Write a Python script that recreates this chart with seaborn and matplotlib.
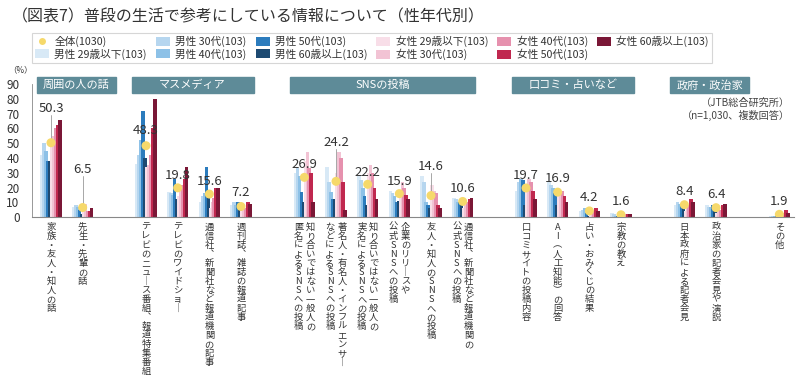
import numpy as np
import pandas as pd
import seaborn as sns
import matplotlib.pyplot as plt
import matplotlib.transforms as mtransforms
from matplotlib.patches import Rectangle, Patch
from matplotlib.lines import Line2D

# ---- data ----
groups = ['周囲の人の話', 'マスメディア', 'SNSの投稿', '口コミ・占いなど', '政府・政治家', '']
group_sizes = [2, 4, 6, 4, 2, 1]

categories = [
    ['家族・友人・知人の話'],
    ['先生・先輩の話'],
    ['テレビのニュース番組、報道特集番組'],
    ['テレビのワイドショー'],
    ['通信社、新聞社など報道機関の記事'],
    ['週刊誌、雑誌の報道記事'],
    ['知り合いではない一般人の', '匿名によるSNSへの投稿'],
    ['著名人・有名人・インフルエンサー', 'などによるSNSへの投稿'],
    ['知り合いではない一般人の', '実名によるSNSへの投稿'],
    ['企業のリリースや', '公式SNSへの投稿'],
    ['友人・知人のSNSへの投稿'],
    ['通信社、新聞社など報道機関の', '公式SNSへの投稿'],
    ['口コミサイトの投稿内容'],
    ['AI（人工知能）の回答'],
    ['占い・おみくじの結果'],
    ['宗教の教え'],
    ['日本政府による記者会見'],
    ['政治家の記者会見や演説'],
    ['その他'],
]

total = [50.3, 6.5, 48.3, 19.8, 15.6, 7.2, 26.9, 24.2, 22.2, 15.9, 14.6, 10.6,
         19.7, 16.9, 4.2, 1.6, 8.4, 6.4, 1.9]

series = ['男性 29歳以下(103)', '男性 30代(103)', '男性 40代(103)', '男性 50代(103)', '男性 60歳以上(103)',
          '女性 29歳以下(103)', '女性 30代(103)', '女性 40代(103)', '女性 50代(103)', '女性 60歳以上(103)']

values = [
    [42, 50, 45, 38, 38, 48, 55, 60, 62, 66],
    [7, 8, 7, 5, 2, 8, 9, 4, 4, 6],
    [36, 42, 52, 72, 40, 34, 35, 42, 60, 80],
    [17, 16, 15, 26, 12, 14, 20, 22, 26, 34],
    [10, 14, 16, 34, 15, 6, 10, 13, 20, 20],
    [8, 10, 8, 10, 6, 4, 6, 6, 10, 9],
    [30, 33, 28, 17, 10, 38, 44, 33, 30, 10],
    [34, 24, 17, 12, 12, 30, 44, 40, 24, 5],
    [28, 25, 20, 14, 8, 30, 35, 30, 20, 12],
    [18, 16, 14, 10, 11, 14, 24, 20, 15, 12],
    [28, 24, 10, 8, 6, 22, 18, 16, 8, 6],
    [13, 12, 10, 10, 8, 6, 8, 10, 12, 13],
    [18, 24, 26, 25, 8, 20, 26, 24, 18, 12],
    [24, 22, 20, 16, 8, 18, 16, 18, 14, 10],
    [4, 5, 6, 3, 1, 4, 5, 4, 6, 4],
    [3, 2, 1, 1, 0.5, 1, 1, 2, 2, 2],
    [8, 10, 9, 9, 8, 4, 6, 8, 12, 10],
    [8, 7, 7, 8, 5, 3, 4, 5, 8, 9],
    [1, 1, 1, 1, 1, 1, 2, 3, 5, 3],
]

colors = ['#d8e9f6', '#b6d6ef', '#8dc1e7', '#2c7cbd', '#1d4a72',
          '#f8dee8', '#f2c3d4', '#e691ae', '#c0284f', '#7a1736']

# height of the value labels (text baseline), layout only
label_h = [69, 28, 54, 24, 20, 12, 31, 46, 26, 20, 30, 15, 24, 22, 9, 6, 13, 11, 6]

# ---- layout positions: one slot per category, one empty slot between groups ----
xpos = []
spans = []
p = 0
for g, n in zip(groups, group_sizes):
    spans.append((g, p, p + n - 1))
    xpos.extend(range(p, p + n))
    p += n + 1

rows = []
for i, x in enumerate(xpos):
    for j, s in enumerate(series):
        rows.append({'x': x, 'series': s, 'value': values[i][j]})
df = pd.DataFrame(rows)

sns.set_theme(style='white')
plt.rcParams['font.family'] = ['Noto Sans CJK JP', 'DejaVu Sans']

fig = plt.figure(figsize=(8, 3.85), dpi=100)
ax = fig.add_axes([0.04, 0.436, 0.952, 0.365])

sns.barplot(data=df, x='x', y='value', hue='series', hue_order=series, palette=colors,
            native_scale=True, width=0.62, dodge=True, ax=ax, legend=False,
            saturation=1, linewidth=0)

# bars overlap a little in the original
for bar in ax.patches:
    w = bar.get_width()
    bar.set_x(bar.get_x() - w * 0.4)
    bar.set_width(w * 1.8)

sns.scatterplot(x=xpos, y=total, color='#f6d96b', s=42, edgecolor='none', zorder=5, ax=ax)

for x, v, h in zip(xpos, total, label_h):
    ax.text(x, h, f'{v}', ha='center', va='bottom', fontsize=9.5, color='#333333', zorder=6)
    if h - v > 9:
        ax.plot([x, x], [v, h], color='#999999', lw=0.6, zorder=4)

# group header bands
for g, a, b in spans:
    if not g:
        continue
    x0 = a - 0.45
    x1 = max(b + 0.4, x0 + 2.5)
    ax.add_patch(Rectangle((x0, 84), x1 - x0, 10.7, color='#5e8b98', clip_on=False, zorder=3))
    ax.text((x0 + x1) / 2, 89.3, g, ha='center', va='center', color='white', fontsize=8, zorder=4)

ax.set_xlim(-0.6, 23.45)
ax.set_ylim(0, 95)
ax.set_yticks(range(0, 91, 10))
ax.tick_params(axis='y', labelsize=8.5, colors='#333333', length=2, width=0.6, pad=7)
ax.set_xticks([])
ax.set_xlabel('')
ax.set_ylabel('')
for s in ['top', 'right']:
    ax.spines[s].set_visible(False)
ax.spines['left'].set_bounds(0, 90)
ax.spines['left'].set_color('#888888')
ax.spines['bottom'].set_color('#888888')
ax.spines['left'].set_linewidth(0.6)
ax.spines['bottom'].set_linewidth(0.8)

# vertical (tategaki-like) category labels
vmap = {'ー': '｜', '、': '︑', '（': '︵', '）': '︶'}
trans = mtransforms.blended_transform_factory(ax.transData, ax.transAxes)
for x, lines in zip(xpos, categories):
    n = len(lines)
    for k, line in enumerate(lines):
        dx = 0 if n == 1 else (0.19 if k == 0 else -0.19)
        txt = '\n'.join(vmap.get(c, c) for c in line)
        ax.text(x + dx, -0.04, txt, transform=trans, ha='center', va='top',
                fontsize=6.7, linespacing=1.0, color='#333333')

# legend
handles = [Line2D([0], [0], marker='o', color='none', markerfacecolor='#f6d96b',
                  markeredgecolor='none', markersize=5, label='全体(1030)')]
handles += [Patch(facecolor=c, edgecolor='none', label=s) for c, s in zip(colors, series)]
leg = fig.legend(handles=handles, loc='upper left', bbox_to_anchor=(0.04, 0.915), ncol=6,
                 fontsize=7.7, frameon=True, fancybox=False, handlelength=1.3, handleheight=0.9,
                 handletextpad=0.5, columnspacing=0.85, borderpad=0.3, labelspacing=0.1,
                 borderaxespad=0)
leg.get_frame().set_edgecolor('#cccccc')
leg.get_frame().set_linewidth(0.8)
for t in leg.get_texts():
    t.set_color('#333333')

fig.text(0.015, 0.955, '（図表7）普段の生活で参考にしている情報について（性年代別）',
         fontsize=11.5, color='#333333', va='center')
fig.text(0.025, 0.818, '（%）', fontsize=6, color='#333333', va='center', ha='center')
fig.text(0.988, 0.733, '（JTB総合研究所）', fontsize=7.3, color='#444444', ha='right', va='center')
fig.text(0.988, 0.700, '（n=1,030、複数回答）', fontsize=7.3, color='#444444', ha='right', va='center')

fig.savefig('out.png', dpi=100)
